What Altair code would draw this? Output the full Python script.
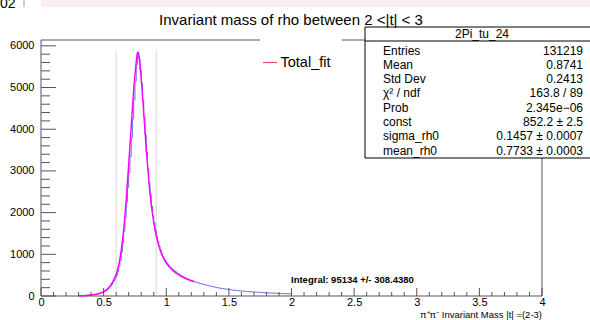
import altair as alt
import pandas as pd

FONT = "Liberation Sans"

# ---------------- data ----------------
hist_start = 0.30          # left edge of first filled bin
hist_bin_width = 0.01
hist_counts = [
    3, 4, 6, 7, 9, 11, 13, 15, 18, 21,            # 0.30-0.39
    24, 28, 33, 37, 42, 49, 55, 63, 73, 85,       # 0.40-0.49
    100, 118, 141, 165, 196, 230, 272, 318, 372, 432,   # 0.50-0.59
    495, 590, 712, 860, 1050, 1280, 1552, 1880, 2250, 2600,   # 0.60-0.69
    2960, 3350, 3800, 4250, 4700, 5150, 5550, 5850, 5700, 5420,  # 0.70-0.79
    5100, 4700, 4300, 3870, 3450, 3060, 2720, 2430, 2150, 1930,  # 0.80-0.89
    1750, 1580, 1430, 1310, 1200, 1105, 1020, 950, 890, 840,     # 0.90-0.99
    795, 762, 722, 692, 655, 634, 603, 586, 556, 542,            # 1.00-1.09
    518, 502, 480, 470, 448, 437, 418, 410, 390, 382,            # 1.10-1.19
    368, 361, 345, 338, 325, 320, 305, 300, 288, 284,            # 1.20-1.29
    272, 268, 256, 251, 241, 238, 228, 224, 214, 211,            # 1.30-1.39
    202, 198, 191, 189, 180, 179, 170, 169, 161, 160,            # 1.40-1.49
    153, 151, 145, 144, 137, 138, 130, 131, 124, 125,            # 1.50-1.59
    118, 119, 112, 113, 107, 108, 102, 104, 98, 99,              # 1.60-1.69
    94, 95, 89, 90, 85, 87, 81, 83, 78, 79,                      # 1.70-1.79
    74, 76, 71, 72, 68, 70, 65, 67, 62, 64,                      # 1.80-1.89
    59, 61, 56, 58, 54, 56, 52, 53, 50, 52,                      # 1.90-1.99
]

fit_x = [0.30, 0.32, 0.34, 0.36, 0.38, 0.40, 0.42, 0.44, 0.46, 0.48,
         0.50, 0.52, 0.54, 0.56, 0.58, 0.60, 0.62, 0.64, 0.66, 0.68,
         0.70, 0.72, 0.74, 0.76, 0.77, 0.78, 0.80, 0.82, 0.84, 0.86,
         0.88, 0.90, 0.92, 0.94, 0.96, 0.98, 1.00, 1.02, 1.04, 1.06,
         1.08, 1.10, 1.12, 1.14, 1.16, 1.18, 1.20, 1.22]
fit_y = [3, 6, 9, 13, 18, 25, 33, 43, 57, 76,
         103, 142, 198, 275, 380, 520, 740, 1090, 1600, 2310,
         3150, 4060, 4950, 5600, 5845, 5800, 5230, 4400, 3540, 2790,
         2200, 1770, 1450, 1210, 1030, 895, 790, 710, 645, 590,
         545, 505, 470, 440, 412, 388, 366, 346]

marker_x = [0.60, 0.92]
marker_top = 5870

x_major = [0, 0.5, 1, 1.5, 2, 2.5, 3, 3.5, 4]
x_minor = [round(i * 0.1, 1) for i in range(41) if i % 5]
y_major = [0, 1000, 2000, 3000, 4000, 5000, 6000]
y_minor = [i * 200 for i in range(31) if i % 5]

x_domain = [0, 4]
y_domain = [0, 6140]

title_text = "Invariant mass of rho between 2 <|t| < 3"
x_title_text = "π⁺π⁻ Invariant Mass |t| =(2-3)"
integral_text = "Integral: 95134 +/- 308.4380"
legend_label = "Total_fit"

stats_name = "2Pi_tu_24"
stats_labels = ["Entries", "Mean", "Std Dev", "χ² / ndf", "Prob", "const",
                "sigma_rh0", "mean_rh0"]
stats_values = ["131219", "0.8741", "0.2413", "163.8 / 89", "2.345e−06",
                "852.2 ± 2.5", "0.1457 ± 0.0007", "0.7733 ± 0.0003"]

# ---------------- tables ----------------
edges = [round(hist_start + i * hist_bin_width, 2) for i in range(len(hist_counts) + 1)]
hist_df = pd.DataFrame({"x": edges, "y": hist_counts + [hist_counts[-1]]})
fit_df = pd.DataFrame({"x": fit_x, "y": fit_y})
marker_df = pd.DataFrame({"x": marker_x, "y": [marker_top] * len(marker_x),
                          "bottom": [0] * len(marker_x)})
xmaj_df = pd.DataFrame({"x": x_major})
xmin_df = pd.DataFrame({"x": x_minor})
ymaj_df = pd.DataFrame({"y": y_major})
ymin_df = pd.DataFrame({"y": y_minor})
one = pd.DataFrame({"a": [0]})

XS = alt.Scale(domain=x_domain, nice=False, zero=False)
YS = alt.Scale(domain=y_domain, nice=False, zero=False)

x_axis = alt.Axis(values=x_major, format="~g", ticks=False, domain=False, grid=False,
                  labelFont=FONT, labelFontSize=11, labelPadding=0, labelColor="black",
                  title=None, labelFlush=False, labelOverlap=False)
y_axis = alt.Axis(values=y_major, format="d", ticks=False, domain=False, grid=False,
                  labelFont=FONT, labelFontSize=11, labelPadding=7, labelColor="black",
                  title=None, labelOverlap=False)

W, H = 501, 256
FRAME = "#555"


def X(field):
    return alt.X(field, scale=XS, axis=x_axis)


def Y(field):
    return alt.Y(field, scale=YS, axis=y_axis)


hist = alt.Chart(hist_df).mark_line(interpolate="step-after", color="#6b6be6",
                                    strokeWidth=1).encode(x=X("x:Q"), y=Y("y:Q"))

fit = alt.Chart(fit_df).mark_line(interpolate="monotone", color="#ff00ff",
                                  strokeWidth=1.4).encode(x=X("x:Q"), y=Y("y:Q"))

markers = alt.Chart(marker_df).mark_rule(color="#b0b0b0", strokeWidth=1,
                                         strokeDash=[1, 1]).encode(
    x=X("x:Q"), y=Y("y:Q"), y2="bottom:Q")

xmaj = alt.Chart(xmaj_df).mark_rule(color=FRAME, strokeWidth=1).encode(
    x=X("x:Q"), y=alt.value(H), y2=alt.value(H - 8))
xmin = alt.Chart(xmin_df).mark_rule(color=FRAME, strokeWidth=1).encode(
    x=X("x:Q"), y=alt.value(H), y2=alt.value(H - 4))
ymaj = alt.Chart(ymaj_df).mark_rule(color=FRAME, strokeWidth=1).encode(
    y=Y("y:Q"), x=alt.value(0), x2=alt.value(15))
ymin = alt.Chart(ymin_df).mark_rule(color=FRAME, strokeWidth=1).encode(
    y=Y("y:Q"), x=alt.value(0), x2=alt.value(9))

# frame of the plot area
frame = alt.Chart(one).mark_rect(fill=None, stroke=FRAME, strokeWidth=1).encode(
    x=alt.value(0), x2=alt.value(W), y=alt.value(0), y2=alt.value(H))

# legend
leg_bg = alt.Chart(one).mark_rect(fill="white", stroke=None).encode(
    x=alt.value(219), x2=alt.value(301), y=alt.value(-12), y2=alt.value(45))
leg_line = alt.Chart(one).mark_rule(color="#f0506a", strokeWidth=1.2).encode(
    x=alt.value(222), x2=alt.value(236), y=alt.value(22.5))
leg_text = alt.Chart(one).mark_text(text=legend_label, font=FONT, fontSize=14.5,
                                    align="left", baseline="middle", color="black").encode(
    x=alt.value(239.5), y=alt.value(22.5))

# stats box
SB_L, SB_R, SB_T, SB_B = 324, 560, -13, 118
st_bg = alt.Chart(one).mark_rect(fill="white", stroke="black", strokeWidth=1).encode(
    x=alt.value(SB_L), x2=alt.value(SB_R), y=alt.value(SB_T), y2=alt.value(SB_B))
st_sep = alt.Chart(one).mark_rule(color="black", strokeWidth=1).encode(
    x=alt.value(SB_L), x2=alt.value(SB_R), y=alt.value(1))
st_name = alt.Chart(one).mark_text(text=stats_name, font=FONT, fontSize=12,
                                   align="center", baseline="middle", color="black").encode(
    x=alt.value(441), y=alt.value(-6))
st_lab = alt.Chart(one).mark_text(text=stats_labels, font=FONT, fontSize=12,
                                  lineHeight=14.3, align="left", baseline="middle",
                                  color="black").encode(x=alt.value(342), y=alt.value(10.5))
st_val = alt.Chart(one).mark_text(text=stats_values, font=FONT, fontSize=12,
                                  lineHeight=14.3, align="right", baseline="middle",
                                  color="black").encode(x=alt.value(542), y=alt.value(10.5))

integral = alt.Chart(one).mark_text(text=integral_text, font=FONT, fontSize=9.5,
                                    fontWeight="bold", align="left", baseline="middle",
                                    color="black").encode(x=alt.value(250), y=alt.value(240))
title = alt.Chart(one).mark_text(text=title_text, font=FONT, fontSize=15,
                                 align="center", baseline="middle", color="black").encode(
    x=alt.value(250), y=alt.value(-20.5))
xtitle = alt.Chart(one).mark_text(text=x_title_text, font=FONT, fontSize=9.5,
                                  align="right", baseline="alphabetic", color="black").encode(
    x=alt.value(W), y=alt.value(278))

# screenshot residue at the very top
band = alt.Chart(one).mark_rect(fill="#fbeef2", stroke=None).encode(
    x=alt.value(0), x2=alt.value(560), y=alt.value(-40), y2=alt.value(-33))
bar = alt.Chart(one).mark_rule(color="#999", strokeWidth=1).encode(
    x=alt.value(-17), y=alt.value(-40), y2=alt.value(-33))
cut = alt.Chart(one).mark_text(text="02", font=FONT, fontSize=14, align="left",
                               baseline="alphabetic", color="black").encode(
    x=alt.value(-41), y=alt.value(-32))

chart = alt.layer(
    frame, markers, hist, fit, xmaj, xmin, ymaj, ymin,
    leg_bg, leg_line, leg_text,
    st_bg, st_sep, st_name, st_lab, st_val,
    integral, title, xtitle, band, bar, cut,
).properties(
    width=W, height=H,
    padding={"left": 41, "top": 40, "right": 48, "bottom": 24},
    autosize=alt.AutoSizeParams(type="none"),
    background="white",
).configure_view(stroke=None)

chart.save("out.html", embed_options={"renderer": "svg", "actions": False})
